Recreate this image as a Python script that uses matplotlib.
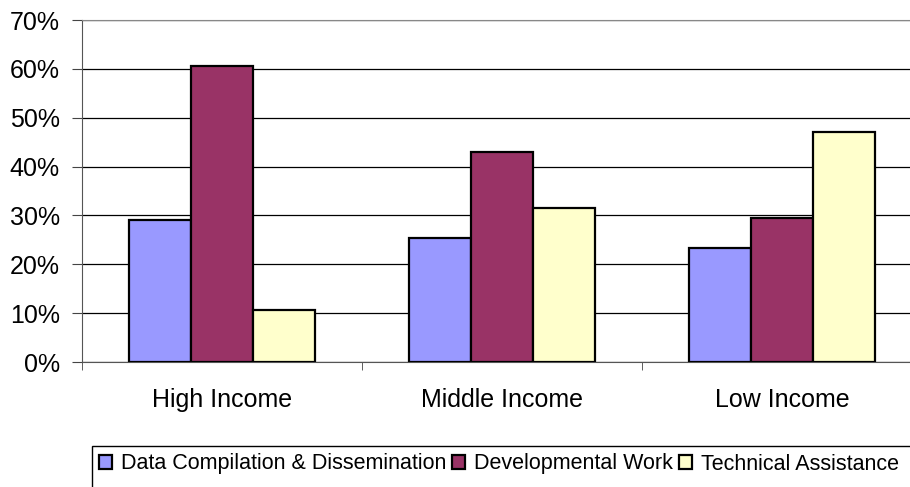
import matplotlib.pyplot as plt
from matplotlib.patches import Rectangle
import numpy as np

plt.rcParams['font.family'] = ['Liberation Sans', 'DejaVu Sans']

groups = ['High Income', 'Middle Income', 'Low Income']
series = ['Data Compilation & Dissemination', 'Developmental Work', 'Technical Assistance']
values = [
    [29.1, 25.4, 23.3],
    [60.6, 43.0, 29.5],
    [10.6, 31.5, 47.1],
]
colors = ['#9999ff', '#993366', '#ffffcc']

fig = plt.figure(figsize=(9.1, 4.87), dpi=100)
ax = fig.add_axes([82 / 910, 1 - 362 / 487, 840 / 910, 342 / 487])

x = np.arange(len(groups))
w = 0.222
for i, (name, vals, c) in enumerate(zip(series, values, colors)):
    ax.bar(x + (i - 1) * w, vals, w, color=c, edgecolor='black', linewidth=1.6,
           label=name, zorder=3)

ax.set_xlim(-0.5, 2.5)
ax.set_ylim(0, 70)
ax.set_yticks(range(0, 71, 10))
ax.set_yticklabels([f'{v}%' for v in range(0, 71, 10)], fontsize=18)
ax.yaxis.grid(True, color='black', linewidth=0.9, zorder=0)

ax.set_xticks(x)
ax.set_xticklabels(groups, fontsize=18)
ax.tick_params(axis='x', length=0, pad=19)
ax.set_xticks([-0.5, 0.5, 1.5, 2.5], minor=True)
ax.tick_params(axis='x', which='minor', length=6, color='#444444')
ax.tick_params(axis='y', length=7, color='#444444', pad=9)

ax.spines['right'].set_visible(False)
ax.spines['top'].set_color('#888888')
ax.spines['left'].set_color('#555555')
ax.spines['bottom'].set_color('#555555')

# legend box runs past the right and bottom edges, as in the original
fig.patches.append(Rectangle((92 / 910, -0.05), 0.95, 0.05 + 41 / 487,
                             transform=fig.transFigure, facecolor='white',
                             edgecolor='black', linewidth=1.0))
leg = fig.legend(loc='center left', bbox_to_anchor=(99 / 910, 1 - 464 / 487),
                 ncol=3, fontsize=15.5, frameon=False,
                 handlelength=0.6, handleheight=0.6, handletextpad=0.4,
                 columnspacing=0.3, borderaxespad=0, borderpad=0)

fig.savefig('out.png', dpi=100)
